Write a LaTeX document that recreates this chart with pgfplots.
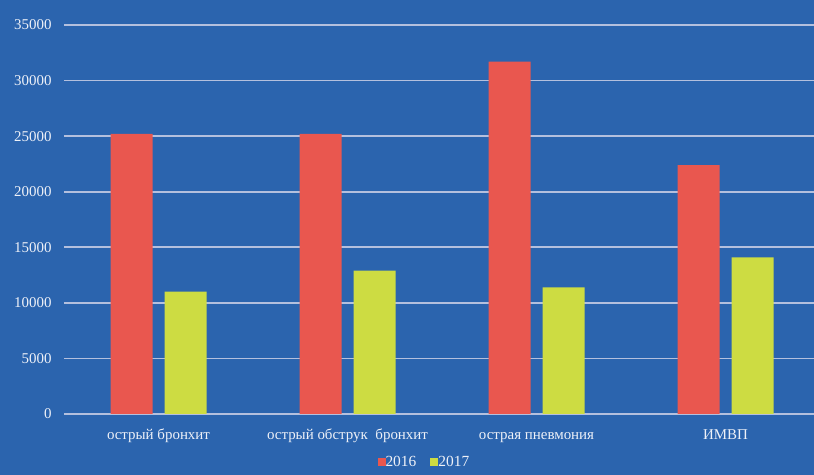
\documentclass[border=0pt]{standalone}
\usepackage{fontspec}
\setmainfont{Liberation Serif}
\usepackage{pgfplots}
\pgfplotsset{compat=1.18}
\definecolor{bg}{HTML}{2B64AE}
\definecolor{redbar}{HTML}{E9574F}
\definecolor{yelbar}{HTML}{CDDC42}
\definecolor{gridc}{HTML}{B4C0DE}
\definecolor{txt}{HTML}{EEF1F8}
\begin{document}
\begin{tikzpicture}
\fill[bg] (0,0) rectangle (814bp,475bp);
\useasboundingbox (0,0) rectangle (814bp,475bp);
\begin{axis}[
  at={(64bp,61bp)}, anchor=south west,
  scale only axis, width=750bp, height=389bp,
  xmin=-0.5, xmax=3.468, ymin=0, ymax=35000,
  ybar=12bp, bar width=42bp,
  axis line style={draw=none},
  major tick length=0pt,
  ymajorgrids, grid style={gridc, line width=1.6bp},
  ytick={0,5000,...,35000},
  scaled y ticks=false,
  /pgf/number format/1000 sep={},
  /pgf/number format/assume math mode=true,
  xtick=data,
  xticklabels={острый бронхит, острый обструк\ \ бронхит, острая пневмония, ИМВП},
  tick label style={font=\fontsize{15}{18}\selectfont, text=txt},
  yticklabel style={xshift=-9bp},
  xticklabel style={anchor=base, yshift=-26bp},
  legend style={at={(0.4805,-0.123)}, anchor=center, draw=none, fill=none,
    legend columns=-1, font=\fontsize{15.5}{18}\selectfont, text=txt,
    /tikz/every even column/.append style={column sep=12bp},
    /tikz/every odd column/.append style={column sep=-2bp}},
  legend image code/.code={\fill[#1] (0bp,-4bp) rectangle (8bp,4bp);},
]
\addplot[fill=redbar, draw=none] coordinates {(0,25200) (1,25200) (2,31700) (3,22400)};
\addplot[fill=yelbar, draw=none] coordinates {(0,11000) (1,12900) (2,11400) (3,14100)};
\legend{2016,2017}
\end{axis}
\end{tikzpicture}
\end{document}
